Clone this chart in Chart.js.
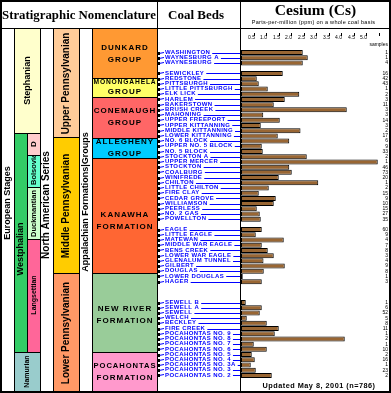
<!DOCTYPE html>
<html><head><meta charset="utf-8">
<script src="https://cdn.jsdelivr.net/npm/chart.js@4"></script>
<style>html,body{margin:0;padding:0;background:#fff}canvas{display:block}</style>
</head><body>
<canvas id="c" width="391" height="393"></canvas>
<script>
// ---------- DATA ----------
const coalBeds = [
 'WASHINGTON','WAYNESBURG A','WAYNESBURG','',
 'SEWICKLEY','REDSTONE','PITTSBURGH','LITTLE PITTSBURGH','ELK LICK','HARLEM','BAKERSTOWN','BRUSH CREEK','MAHONING','UPPER FREEPORT',
 'UPPER KITTANNING','MIDDLE KITTANNING','LOWER KITTANNING','NO. 6 BLOCK','UPPER NO. 5 BLOCK','NO. 5 BLOCK','STOCKTON A','UPPER MERCER','STOCKTON','COALBURG',
 'WINIFREDE','CHILTON','LITTLE CHILTON','FIRE CLAY','CEDAR GROVE','WILLIAMSON','PEERLESS','NO. 2 GAS','POWELLTON','',
 'EAGLE','LITTLE EAGLE','MATEWAN','MIDDLE WAR EAGLE','BENS CREEK','LOWER WAR EAGLE','GLENALUM TUNNEL','GILBERT','DOUGLAS','LOWER DOUGLAS','HAGER','','','',
 'SEWELL B','SEWELL A','SEWELL','WELCH','BECKLEY','FIRE CREEK','POCAHONTAS NO. 9','POCAHONTAS NO. 8','POCAHONTAS NO. 7','POCAHONTAS NO. 6','POCAHONTAS NO. 5','POCAHONTAS NO. 4','POCAHONTAS NO. 3A','POCAHONTAS NO. 3','POCAHONTAS NO. 2'
];
const cesiumPpm = [
 2.47,2.67,2.47,null,
 1.67,0.63,0.71,1.07,2.33,1.75,1.31,4.23,0.89,1.55,
 0.79,2.38,1.47,1.93,0.83,0.87,2.63,5.47,1.93,2.03,
 1.51,3.09,1.11,0.71,1.39,1.31,0.63,0.75,0.79,null,
 0.83,0.59,1.71,0.83,1.07,1.31,0.90,1.75,0.91,0.07,0.83,null,null,null,
 0.19,0.83,0.75,0.23,1.03,1.51,1.35,4.15,0.51,1.03,0.43,0.55,0.39,0.59,1.23
];
const sampleCounts = [
 1,1,4,null,
 16,42,43,1,2,3,11,3,3,14,
 3,2,17,6,9,33,2,1,46,73,
 20,1,2,15,9,10,15,27,35,null,
 60,9,4,7,8,3,4,9,8,1,3,null,null,null,
 1,6,52,5,8,11,1,2,1,10,2,16,1,23,2
];
const tickValues = [0,0.5,1,1.5,2,2.5,3,3.5,4,4.5,5,5.5];
const tickLabels = ['','0.5','1.0','1.5','2.0','2.5','3.0','3.5','4.0','4.5','5.0',''];
const europeanStages = ['Stephanian','Westphalian','D','Bolsovian','Duckmantian','Langsettian','Namurian'];
const northAmericanSeries = ['Upper Pennsylvanian','Middle Pennsylvanian','Lower Pennsylvanian'];
const appalachianUnits = [['DUNKARD','GROUP'],['MONONGAHELA','GROUP'],['CONEMAUGH','GROUP'],['ALLEGHENY','GROUP'],['KANAWHA','FORMATION'],['NEW RIVER','FORMATION'],['POCAHONTAS','FORMATION']];
const titleText = 'Stratigraphic Nomenclature';
const coalBedsTitle = 'Coal Beds';
const chartTitle = 'Cesium (Cs)';
const chartSubtitle = 'Parts-per-million (ppm) on a whole coal basis';
const samplesLabel = 'samples';
const footerText = 'Updated May 8, 2001 (n=786)';

// ---------- LAYOUT / STYLE ----------
const SANS = '"Liberation Sans", Arial, sans-serif';
const SERIF = '"Liberation Serif", "Times New Roman", serif';
const PANEL_TOP = 28, PANEL_BOTTOM = 391;
const stageBoxes = [
 {x0:14,x1:40,y0:28,y1:133,c:'#ffffcc',size:9},
 {x0:14,x1:27,y0:133,y1:352,c:'#33cc66',size:9,cy:249},
 {x0:27,x1:40,y0:133,y1:155,c:'#ffcccc',size:8},
 {x0:27,x1:40,y0:155,y1:187,c:'#66ffcc',size:7.5,bottom:true},
 {x0:27,x1:40,y0:187,y1:239,c:'#ccffcc',size:7.5,bottom:true},
 {x0:27,x1:40,y0:239,y1:352,c:'#ff6699',size:7,cy:295},
 {x0:14,x1:40,y0:352,y1:391,c:'#99cccc',size:7}
];
const seriesBoxes = [
 {y0:28,y1:137,c:'#ffcc99'},{y0:137,y1:273,c:'#ffcc00'},{y0:273,y1:391,c:'#ff9966'}
];
const unitBoxes = [
 {y0:28,y1:78,c:'#ff9933',l1:48,l2:60},
 {y0:78,y1:97,c:'#ffff66',l1:81.5,l2:92},
 {y0:97,y1:138,c:'#ff6666',l1:111,l2:123},
 {y0:138,y1:158,c:'#00ccff',l1:142,l2:154},
 {y0:158,y1:273,c:'#ff6633',l1:215,l2:227},
 {y0:273,y1:352,c:'#99cc99',l1:308.5,l2:321},
 {y0:352,y1:391,c:'#ff99cc',l1:366,l2:378}
];

function rectBox(ctx,x0,y0,x1,y1,fill){
  ctx.fillStyle=fill; ctx.fillRect(x0,y0,x1-x0,y1-y0);
  ctx.strokeStyle='#000'; ctx.lineWidth=1;
  ctx.strokeRect(x0+0.5,y0+0.5,x1-x0,y1-y0);
}
function vtext(ctx,text,cx,cy,size,align,clip){
  ctx.save();
  if(clip){ctx.beginPath();ctx.rect(clip[0],clip[1],clip[2],clip[3]);ctx.clip();}
  ctx.translate(cx,cy); ctx.rotate(-Math.PI/2);
  ctx.font='bold '+size+'px '+SANS; ctx.fillStyle='#000';
  ctx.textAlign=align||'center'; ctx.textBaseline='middle';
  ctx.fillText(text,0,0);
  ctx.restore();
}
function spacing(ctx,v){ if('letterSpacing' in ctx) ctx.letterSpacing=v; }

const panelPlugin = {
  id:'panel',
  beforeDraw(chart){
    const ctx=chart.ctx;
    ctx.save();
    ctx.fillStyle='#fff'; ctx.fillRect(0,0,chart.width,chart.height);
    rectBox(ctx,1,PANEL_TOP,14,PANEL_BOTTOM,'#fff');
    rectBox(ctx,40,PANEL_TOP,53,PANEL_BOTTOM,'#fff');
    rectBox(ctx,79,PANEL_TOP,92,PANEL_BOTTOM,'#fff');
    vtext(ctx,'European Stages',7.5,203,9);
    vtext(ctx,'North American Series',46.5,205,10);
    vtext(ctx,'Appalachian Formations|Groups',85.5,202,9);
    stageBoxes.forEach((b,i)=>{
      rectBox(ctx,b.x0,b.y0,b.x1,b.y1,b.c);
      const cx=(b.x0+b.x1)/2+0.5;
      if(b.bottom){
        vtext(ctx,europeanStages[i],cx,b.y1-2,b.size,'left',[b.x0,b.y0+1,b.x1-b.x0,b.y1-b.y0-1]);
      } else {
        vtext(ctx,europeanStages[i],cx,b.cy||(b.y0+b.y1)/2,b.size,'center',[b.x0,b.y0+1,b.x1-b.x0,b.y1-b.y0-1]);
      }
    });
    seriesBoxes.forEach((b,i)=>{
      rectBox(ctx,53,b.y0,79,b.y1,b.c);
      vtext(ctx,northAmericanSeries[i],66.5,(b.y0+b.y1)/2+1,10);
    });
    unitBoxes.forEach((b,i)=>{
      rectBox(ctx,92,b.y0,157,b.y1,b.c);
      ctx.fillStyle='#000'; ctx.font='bold 8px '+SANS;
      ctx.textAlign='center'; ctx.textBaseline='middle';
      spacing(ctx,'1px');
      ctx.fillText(appalachianUnits[i][0],125,b.l1,63);
      ctx.fillText(appalachianUnits[i][1],125,b.l2,63);
      spacing(ctx,'0px');
    });
    ctx.fillStyle='#000'; ctx.textBaseline='alphabetic'; ctx.textAlign='center';
    ctx.font='bold 13px '+SERIF;
    ctx.fillText(titleText,79,19,154);
    ctx.fillText(coalBedsTitle,196,19);
    ctx.font='bold 15.5px '+SERIF;
    ctx.fillText(chartTitle,315.5,14.5);
    ctx.font='5.5px '+SANS;
    spacing(ctx,'0.3px');
    ctx.fillText(chartSubtitle,313.5,24,142);
    spacing(ctx,'0px');
    const y=chart.scales.y;
    ctx.font='bold 6px '+SANS; ctx.textAlign='left'; ctx.textBaseline='middle';
    spacing(ctx,'0.4px');
    coalBeds.forEach((name,i)=>{
      if(!name) return;
      const yc=y.getPixelForValue(i);
      ctx.fillStyle='#0000ff';
      ctx.fillText(name,165,yc-0.5);
      const w=ctx.measureText(name).width;
      const ly=Math.round(yc)+0.5;
      ctx.strokeStyle='#0000ff'; ctx.lineWidth=1;
      ctx.beginPath(); ctx.moveTo(165+w+2,ly); ctx.lineTo(240,ly); ctx.stroke();
      ctx.beginPath(); ctx.moveTo(159,ly); ctx.lineTo(164,ly-1); ctx.stroke();
      ctx.fillStyle='#000'; ctx.fillRect(158,ly-1.5,2,3);
    });
    spacing(ctx,'0px');
    ctx.restore();
  },
  afterDraw(chart){
    const ctx=chart.ctx, x=chart.scales.x, y=chart.scales.y;
    ctx.save();
    ctx.strokeStyle='#000'; ctx.lineWidth=1;
    const x0=Math.round(x.getPixelForValue(0))-0.5;
    ctx.beginPath(); ctx.moveTo(x0,1); ctx.lineTo(x0,392); ctx.stroke();
    ctx.beginPath(); ctx.moveTo(157.5,1); ctx.lineTo(157.5,392); ctx.stroke();
    ctx.beginPath(); ctx.moveTo(1,28.5); ctx.lineTo(390,28.5); ctx.stroke();
    ctx.font='5px '+SANS; ctx.fillStyle='#000'; ctx.textAlign='center'; ctx.textBaseline='middle';
    tickValues.forEach((v,i)=>{
      const px=Math.round(x.getPixelForValue(v))+0.5;
      if(i>0){ctx.beginPath(); ctx.moveTo(px,33); ctx.lineTo(px,36); ctx.stroke();}
      if(tickLabels[i]) ctx.fillText(tickLabels[i],px-3,37.5);
    });
    ctx.textAlign='right';
    ctx.fillText(samplesLabel,388,44.5);
    sampleCounts.forEach((n,i)=>{
      if(n==null) return;
      ctx.fillText(String(n),388,y.getPixelForValue(i));
    });
    ctx.font='bold 7.3px '+SANS; ctx.textAlign='center'; ctx.textBaseline='alphabetic';
    spacing(ctx,'0.5px');
    ctx.fillText(footerText,319,387.5);
    spacing(ctx,'0px');
    ctx.lineWidth=2; ctx.strokeRect(1,1,389,391);
    ctx.restore();
  }
};

new Chart(document.getElementById('c'),{
  type:'bar',
  data:{labels:coalBeds,datasets:[{data:cesiumPpm,backgroundColor:'#996633',borderColor:'#000',borderWidth:1,borderSkipped:false,barPercentage:0.96,categoryPercentage:1}]},
  options:{
    indexAxis:'y',responsive:false,animation:false,devicePixelRatio:1,
    layout:{padding:{left:241,right:10,top:50,bottom:15}},
    scales:{x:{display:false,min:0,max:5.6},y:{display:false}},
    plugins:{legend:{display:false},tooltip:{enabled:false}}
  },
  plugins:[panelPlugin]
});
</script>
</body></html>
